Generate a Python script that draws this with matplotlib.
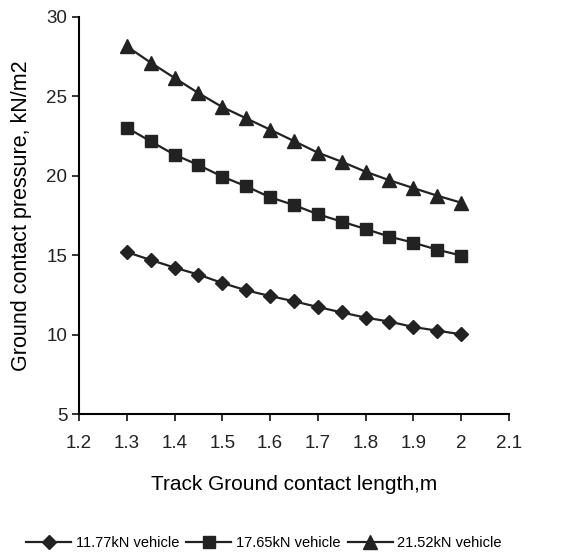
import matplotlib.pyplot as plt

plt.rcParams['font.family'] = ['Liberation Sans', 'DejaVu Sans']

length = [1.30, 1.35, 1.40, 1.45, 1.50, 1.55, 1.60, 1.65, 1.70, 1.75, 1.80, 1.85, 1.90, 1.95, 2.00]
p_1177 = [15.20, 14.70, 14.22, 13.78, 13.25, 12.79, 12.43, 12.10, 11.74, 11.40, 11.07, 10.82, 10.48, 10.25, 10.02]
p_1765 = [23.03, 22.17, 21.33, 20.68, 19.95, 19.34, 18.65, 18.16, 17.58, 17.12, 16.65, 16.17, 15.79, 15.35, 14.98]
p_2152 = [28.15, 27.13, 26.16, 25.21, 24.33, 23.62, 22.91, 22.19, 21.46, 20.89, 20.26, 19.72, 19.23, 18.75, 18.31]

fig = plt.figure(figsize=(5.71, 5.57), dpi=100)
ax = fig.add_axes([0.1384, 0.2567, 0.7526, 0.7128])

ax.plot(length, p_1177, color='#222222', lw=1.6, marker='D', ms=7, label='11.77kN vehicle')
ax.plot(length, p_1765, color='#222222', lw=1.6, marker='s', ms=8, label='17.65kN vehicle')
ax.plot(length, p_2152, color='#222222', lw=1.6, marker='^', ms=9.5, label='21.52kN vehicle')

ax.set_xlim(1.2, 2.1)
ax.set_ylim(5, 30)
ax.set_xticks([1.2, 1.3, 1.4, 1.5, 1.6, 1.7, 1.8, 1.9, 2.0, 2.1])
ax.set_xticklabels(['1.2', '1.3', '1.4', '1.5', '1.6', '1.7', '1.8', '1.9', '2', '2.1'])
ax.set_yticks([5, 10, 15, 20, 25, 30])

ax.spines['top'].set_visible(False)
ax.spines['right'].set_visible(False)
ax.spines['left'].set_linewidth(1.5)
ax.spines['bottom'].set_linewidth(1.5)
ax.tick_params(direction='out', length=5, width=1.3, labelsize=13.5, colors='#222222')
ax.tick_params(axis='x', pad=10)

ax.set_xlabel('Track Ground contact length,m', fontsize=15, labelpad=17)
ax.set_ylabel('Ground contact pressure, kN/m2', fontsize=15.5, labelpad=10)

fig.legend(loc='center', bbox_to_anchor=(0.462, 0.025), ncol=3, frameon=False,
           fontsize=10.5, handlelength=3.1, handletextpad=0.3, columnspacing=0.5)

fig.savefig('out.png', dpi=100)
